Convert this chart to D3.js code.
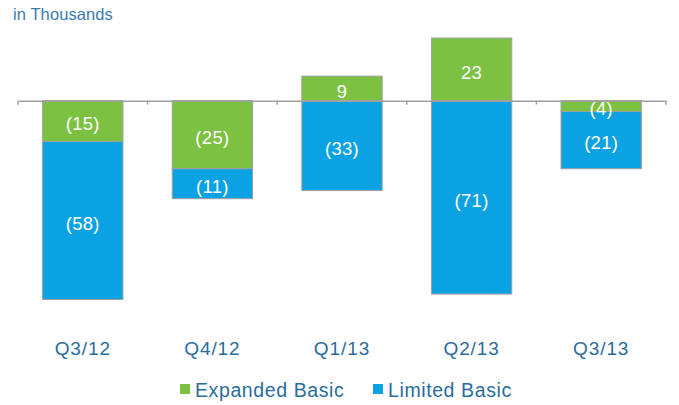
<!DOCTYPE html>
<html>
<head>
<meta charset="utf-8">
<script src="https://cdn.jsdelivr.net/npm/d3@7"></script>
<style>
  html, body { margin: 0; padding: 0; background: #fff; }
  svg { display: block; font-family: "Liberation Sans", Arial, Helvetica, sans-serif; }
</style>
</head>
<body>
<svg id="chart" width="679" height="405"></svg>
<script>
// Quarterly net subscriber change, in thousands
const quarters = ["Q3/12", "Q4/12", "Q1/13", "Q2/13", "Q3/13"];
const expandedBasic = [-15, -25, 9, 23, -4];
const limitedBasic = [-58, -11, -33, -71, -21];
const seriesNames = ["Expanded Basic", "Limited Basic"];
const seriesColors = ["#7cc142", "#0aa2e2"];

const svg = d3.select("#chart");
const textColor = "#2a6c9c";

const x = d3.scaleBand().domain(quarters).range([18, 666]).paddingInner(0.38).paddingOuter(0.19);
const y = d3.scaleLinear().domain([-73, 23]).range([299.5, 38]);

// Stack each quarter: expanded basic sits next to zero, limited basic stacks beyond it
const segments = [];
quarters.forEach((q, i) => {
  const e = expandedBasic[i], l = limitedBasic[i];
  segments.push({ q, series: 0, v: e, y0: 0, y1: e });
  const base = e < 0 ? e : 0;
  segments.push({ q, series: 1, v: l, y0: base, y1: base + l });
});

svg.append("g").selectAll("rect").data(segments).join("rect")
  .attr("x", d => x(d.q))
  .attr("width", x.bandwidth())
  .attr("y", d => y(Math.max(d.y0, d.y1)))
  .attr("height", d => Math.abs(y(d.y0) - y(d.y1)))
  .attr("fill", d => seriesColors[d.series])
  .attr("stroke", "#a0a0a0")
  .attr("stroke-width", 1);

// Zero baseline with ticks at the category boundaries
const axis = d3.axisBottom(x).tickSize(0).tickFormat("");
const axisG = svg.append("g").attr("transform", `translate(0,${y(0)})`).call(axis);
axisG.select(".domain").attr("stroke", "#a0a0a0").attr("stroke-width", 1.5);
const boundaries = [x.range()[0]]
  .concat(quarters.slice(1).map(q => x(q) - x.step() * x.paddingInner() / 2))
  .concat([x.range()[1]]);
axisG.selectAll(".sep").data(boundaries).join("line")
  .attr("class", "sep")
  .attr("x1", d => d).attr("x2", d => d)
  .attr("y1", 0).attr("y2", 4)
  .attr("stroke", "#a0a0a0").attr("stroke-width", 1.5);

// Value labels centred in each segment
const fmt = v => v < 0 ? `(${Math.abs(v)})` : `${v}`;
svg.append("g").selectAll("text").data(segments).join("text")
  .attr("x", d => x(d.q) + x.bandwidth() / 2)
  .attr("y", d => (y(d.y0) + y(d.y1)) / 2)
  .attr("dy", "0.5em")
  .attr("text-anchor", "middle")
  .attr("fill", "#fff")
  .attr("font-size", 18.5)
  .attr("letter-spacing", 0.3)
  .text(d => fmt(d.v));

// Category labels
svg.append("g").selectAll("text").data(quarters).join("text")
  .attr("x", d => x(d) + x.bandwidth() / 2)
  .attr("y", 355)
  .attr("text-anchor", "middle")
  .attr("fill", textColor)
  .attr("font-size", 19)
  .attr("letter-spacing", 0.9)
  .text(d => d);

// Unit caption
svg.append("text")
  .attr("x", 13).attr("y", 20)
  .attr("fill", "#3a7cb2")
  .attr("font-size", 16.5)
  .attr("letter-spacing", 0.1)
  .text("in Thousands");

// Legend
const legendX = [180, 373];
const legend = svg.append("g").selectAll("g").data(seriesNames).join("g")
  .attr("transform", (d, i) => `translate(${legendX[i]},384)`);
legend.append("rect").attr("width", 10).attr("height", 10)
  .attr("fill", (d, i) => seriesColors[i]);
legend.append("text").attr("x", 15).attr("y", 13)
  .attr("fill", textColor).attr("font-size", 19.5)
  .attr("letter-spacing", 0.6)
  .text(d => d);
</script>
</body>
</html>
